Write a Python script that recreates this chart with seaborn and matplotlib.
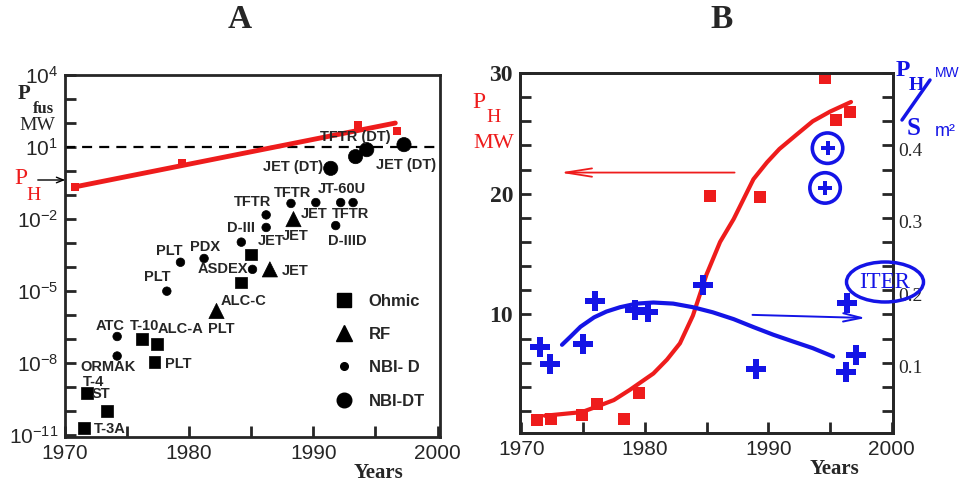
import pandas as pd
import seaborn as sns
import matplotlib.pyplot as plt
from matplotlib.lines import Line2D
from matplotlib.patches import Ellipse

RED = '#ee1c1c'
BLUE = '#1414e6'

# ---- panel A : fusion power of the machines (MW), log scale ----
ohmic_year = [1985.0, 1984.2, 1976.2, 1977.4, 1977.2, 1971.8, 1973.4, 1971.5]
ohmic_pfus = [3.4e-4, 2.3e-5, 1.0e-7, 6.3e-8, 1.1e-8, 5.8e-10, 1.0e-10, 2.0e-11]
rf_year = [1988.4, 1986.5, 1982.2]
rf_pfus = [1.0e-2, 8.1e-5, 1.5e-6]
nbid_year = [1986.2, 1986.2, 1988.2, 1990.2, 1992.2, 1993.2, 1991.8,
             1984.2, 1979.3, 1981.2, 1985.1, 1978.2, 1974.2, 1974.2]
nbid_pfus = [1.5e-2, 4.5e-3, 4.5e-2, 4.9e-2, 4.9e-2, 4.9e-2, 5.4e-3,
             1.1e-3, 1.6e-4, 2.3e-4, 8.1e-5, 1.0e-5, 1.3e-7, 2.0e-8]
nbidt_year = [1991.4, 1993.4, 1994.3, 1997.3]
nbidt_pfus = [1.3, 4.0, 7.8, 12.6]
# heating power P_H in panel A
pha_year = [1970.8, 1979.4, 1993.6, 1996.7]
pha_mw = [0.22, 2.2, 80, 48]
pha_fit_year = [1970.8, 1996.6]
pha_fit_mw = [0.22, 100]

# machine names: (text, year, log10 of P)
machine_labels = [
    ("TFTR (DT)", 1993.4, 1.43), ("JET (DT)", 1988.4, 0.18), ("JET (DT)", 1997.5, 0.27),
    ("TFTR", 1985.1, -1.27), ("TFTR", 1988.3, -0.90), ("JT-60U", 1992.3, -0.73),
    ("JET", 1990.1, -1.77), ("TFTR", 1993.0, -1.77), ("D-III", 1984.2, -2.39),
    ("JET", 1986.6, -2.89), ("JET", 1988.5, -2.72), ("D-IIID", 1992.7, -2.89),
    ("PLT", 1978.4, -3.34), ("PDX", 1981.3, -3.18), ("ASDEX", 1982.7, -4.09),
    ("JET", 1988.5, -4.17), ("PLT", 1977.4, -4.42), ("ALC-C", 1984.4, -5.42),
    ("ATC", 1973.6, -6.46), ("T-10", 1976.4, -6.46), ("ALC-A", 1979.3, -6.58),
    ("PLT", 1982.6, -6.58), ("ORMAK", 1973.5, -8.16), ("PLT", 1979.1, -8.03),
    ("T-4", 1972.3, -8.78), ("ST", 1972.9, -9.28), ("T-3A", 1973.6, -10.73),
]

# ---- panel B : heating power (MW) and P_H/S (MW/m2) ----
ph_year = [1971.3, 1972.4, 1974.9, 1976.1, 1978.3, 1979.5, 1985.3, 1989.3, 1994.6, 1995.5, 1996.6]
ph_mw = [1.25, 1.3, 1.7, 2.6, 1.3, 3.5, 19.8, 19.7, 29.6, 26.1, 26.75]
ph_curve_year = [1971.9, 1973.4, 1974.9, 1976.1, 1977.5, 1978.8, 1980.7, 1981.8, 1982.85,
                 1983.9, 1985.0, 1986.1, 1987.2, 1988.8, 1989.9, 1990.9, 1992.3, 1993.6,
                 1995.0, 1996.7]
ph_curve_mw = [1.6, 1.75, 1.9, 2.35, 2.9, 3.75, 5.1, 6.25, 7.6,
               9.9, 13.3, 16.0, 17.9, 21.2, 22.6, 23.7, 24.9, 26.0,
               26.8, 27.6]
phs_year = [1971.5, 1972.3, 1975.0, 1976.0, 1979.2, 1980.3, 1984.7, 1989.0, 1996.3, 1996.4, 1997.1]
phs = [0.127, 0.104, 0.131, 0.191, 0.178, 0.176, 0.213, 0.097, 0.093, 0.188, 0.116]
iter_year = [1994.8, 1994.6]
iter_phs = [0.402, 0.347]
phs_curve_year = [1973.3, 1974.0, 1974.8, 1975.9, 1976.9, 1978.0, 1979.35, 1980.7, 1982.3,
                  1983.9, 1985.5, 1987.2, 1988.8, 1990.4, 1992.0, 1993.6, 1995.25]
phs_curve = [0.130, 0.1415, 0.155, 0.168, 0.176, 0.182, 0.187, 0.1885, 0.187,
             0.182, 0.175, 0.1655, 0.1545, 0.144, 0.1346, 0.1254, 0.1138]

sns.set_style("ticks")
plt.rcParams['font.family'] = ['Liberation Sans', 'DejaVu Sans']
plt.rcParams['axes.linewidth'] = 2

W, H = 963, 482
fig = plt.figure(figsize=(W / 100, H / 100), dpi=100)


def box(l, t, r, b):
    return [l / W, 1 - b / H, (r - l) / W, (b - t) / H]


def ftext(x, y, s, **kw):
    fig.text(x / W, 1 - y / H, s, ha='center', va='center', **kw)


serif = 'Liberation Serif'

# ================= panel A =================
axA = fig.add_axes(box(65, 75, 440, 437))
dfA = pd.concat([
    pd.DataFrame({'year': ohmic_year, 'pfus': ohmic_pfus, 'kind': 'Ohmic'}),
    pd.DataFrame({'year': rf_year, 'pfus': rf_pfus, 'kind': 'RF'}),
    pd.DataFrame({'year': nbid_year, 'pfus': nbid_pfus, 'kind': 'NBI- D'}),
    pd.DataFrame({'year': nbidt_year, 'pfus': nbidt_pfus, 'kind': 'NBI-DT'}),
])
axA.set_yscale('log')
axA.axhline(10, color='black', lw=1.6, ls=(0, (4.5, 3.2)), zorder=1)
sns.lineplot(x=pha_fit_year, y=pha_fit_mw, color=RED, lw=3.5, ax=axA, zorder=2)
sns.scatterplot(x=pha_year, y=pha_mw, marker='s', s=28, color=RED, linewidth=0, ax=axA, zorder=3)
sns.scatterplot(data=dfA, x='year', y='pfus', style='kind', size='kind',
                markers={'Ohmic': 's', 'RF': '^', 'NBI- D': 'o', 'NBI-DT': 'o'},
                sizes={'Ohmic': 72, 'RF': 120, 'NBI- D': 38, 'NBI-DT': 105},
                color='black', edgecolor='black', linewidth=0.5, legend=False, ax=axA, zorder=4)

for txt, yr, ex in machine_labels:
    axA.text(yr, 10.0 ** ex, txt, ha='center', va='center', fontsize=10.5,
             fontweight='bold', zorder=5)

axA.set_xlim(1970.2, 2000.2)
axA.set_ylim(10 ** -11.07, 1e4)
axA.set_yticks([1e4, 1e1, 1e-2, 1e-5, 1e-8, 1e-11])
axA.set_yticklabels([r'$\mathregular{10^{%d}}$' % k for k in [4, 1, -2, -5, -8, -11]])
axA.set_yticks([10.0 ** k for k in range(-11, 5)], minor=True)
axA.set_yticklabels([], minor=True)
axA.set_xticks([1970, 1980, 1990, 2000])
axA.set_xticks([1975, 1985, 1995], minor=True)
axA.tick_params(which='both', direction='in', length=8, width=2, labelsize=15, pad=5)
axA.set_xlabel('')
axA.set_ylabel('')

handles = [
    Line2D([], [], ls='', marker='s', ms=9.5, color='black'),
    Line2D([], [], ls='', marker='^', ms=11, color='black'),
    Line2D([], [], ls='', marker='o', ms=5.5, color='black'),
    Line2D([], [], ls='', marker='o', ms=10.5, color='black'),
]
axA.legend(handles, ['Ohmic', 'RF', 'NBI- D', 'NBI-DT'], loc='upper left',
           bbox_to_anchor=(0.71, 0.396), frameon=False, borderpad=0, borderaxespad=0,
           handlelength=1.5, handletextpad=0.75, labelspacing=1.1,
           prop={'size': 12, 'weight': 'bold'})

ftext(240, 20, 'A', fontsize=24, fontweight='bold', family=serif)
ftext(24, 94, 'P', fontsize=15, fontweight='bold', family=serif)
ftext(43, 109, 'fus', fontsize=12, fontweight='bold', family=serif)
ftext(37, 126, 'MW', fontsize=14, family=serif)
ftext(21, 178, 'P', fontsize=17, color=RED, family=serif)
ftext(34, 195, 'H', fontsize=14, color=RED, family=serif)
axA.annotate('', xy=(68, H - 180), xycoords='figure pixels', xytext=(35, H - 180),
             textcoords='figure pixels',
             arrowprops=dict(arrowstyle='->,head_length=0.5,head_width=0.2', color='black', lw=1))
ftext(378, 473, 'Years', fontsize=15, fontweight='bold', family=serif)

# ================= panel B =================
axB = fig.add_axes(box(520, 73, 893, 433))
axB2 = axB.twinx()

sns.lineplot(x=ph_curve_year, y=ph_curve_mw, color=RED, lw=3, sort=False, ax=axB)
sns.scatterplot(x=ph_year, y=ph_mw, marker='s', s=80, color=RED, linewidth=0, ax=axB)
sns.lineplot(x=phs_curve_year, y=phs_curve, color=BLUE, lw=3, sort=False, ax=axB2)
sns.scatterplot(x=phs_year, y=phs, marker='P', s=190, color=BLUE, linewidth=0, ax=axB2)
sns.scatterplot(x=iter_year, y=iter_phs, marker='o', s=480, facecolor='none',
                edgecolor=BLUE, linewidth=2.6, ax=axB2)
sns.scatterplot(x=iter_year, y=iter_phs, marker='P', s=110, color=BLUE, linewidth=0, ax=axB2)

axB.annotate('', xy=(1972.9, 21.75), xytext=(1987.5, 21.75),
             arrowprops=dict(arrowstyle='->,head_length=1.9,head_width=0.3', color=RED, lw=1.3))
axB2.annotate('', xy=(1998.1, 0.167), xytext=(1988.5, 0.1715),
              arrowprops=dict(arrowstyle='->,head_length=1.3,head_width=0.3', color=BLUE, lw=1.4))

axB.set_xlim(1969.9, 2000.1)
axB.set_ylim(0.17, 30)
axB2.set_ylim(0.008, 0.506)
axB.set_xticks([1970, 1980, 1990, 2000])
axB.set_xticks([1975, 1985, 1995], minor=True)
axB.set_yticks([10, 20, 30])
axB.set_yticks(list(range(2, 30, 2)), minor=True)
axB.tick_params(which='both', direction='in', length=8, width=2, right=True, pad=5)
axB.tick_params(axis='x', labelsize=15)
for lab in axB.get_yticklabels():
    lab.set_fontfamily(serif)
    lab.set_fontweight('bold')
    lab.set_fontsize(17)
axB2.set_yticks([0.1, 0.2, 0.3, 0.4])
axB2.set_yticklabels(['0.1', '0.2', '0.3', '0.4'])
axB2.tick_params(axis='y', length=0, pad=4)
for lab in axB2.get_yticklabels():
    lab.set_fontfamily(serif)
    lab.set_fontsize(14)
for ax in (axB, axB2):
    ax.set_xlabel('')
    ax.set_ylabel('')

ell = Ellipse((885 / W, 1 - 282 / H), 77 / W, 40 / H, transform=fig.transFigure,
              fill=False, ec=BLUE, lw=2.5, zorder=10)
fig.add_artist(ell)
ftext(885, 282, 'ITER', fontsize=16.5, color=BLUE, family=serif, zorder=11)

ftext(722, 20, 'B', fontsize=24, fontweight='bold', family=serif)
ftext(479, 103, 'P', fontsize=17, color=RED, family=serif)
ftext(494, 118, 'H', fontsize=14, color=RED, family=serif)
ftext(494, 144, 'MW', fontsize=16, color=RED, family=serif)

ftext(903, 71, 'P', fontsize=17, fontweight='bold', color=BLUE, family=serif)
ftext(916, 85, 'H', fontsize=14, fontweight='bold', color=BLUE, family=serif)
ftext(914, 129, 'S', fontsize=18, fontweight='bold', color=BLUE, family=serif)
fig.add_artist(Line2D([930 / W, 902 / W], [1 - 80 / H, 1 - 120 / H], color=BLUE, lw=2.5))
ftext(947, 73, 'MW', fontsize=10, color=BLUE)
ftext(945, 132, 'm\u00b2', fontsize=13, color=BLUE)
ftext(834, 469, 'Years', fontsize=15, fontweight='bold', family=serif)

fig.savefig('out.png', dpi=100)
